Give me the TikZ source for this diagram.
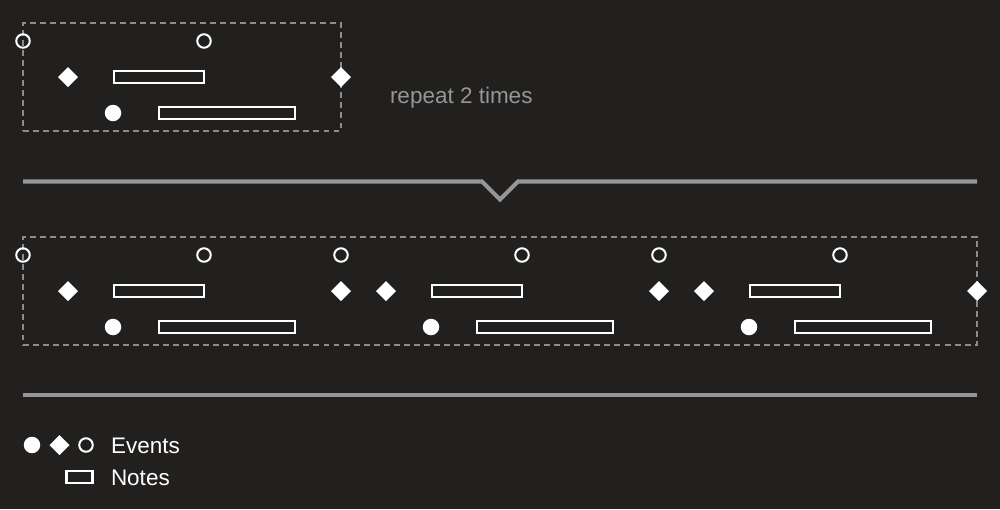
\documentclass[tikz,border=0pt]{standalone}
\usepackage{fontspec}
\setmainfont{Liberation Sans}
\usetikzlibrary{shapes,calc,positioning}
\definecolor{bgdark}{RGB}{33,32,31}
\definecolor{linegray}{RGB}{150,150,150}
\definecolor{dashgray}{RGB}{140,140,140}

\begin{document}
\begin{tikzpicture}[
  every node/.style={inner sep=0pt, outer sep=0pt},
  evopen/.style={circle, draw=white, line width=1.15pt, minimum size=0.27cm},
  evdot/.style={circle, fill=white, minimum size=0.33cm},
  evdia/.style={diamond, fill=white, minimum size=0.4cm},
  notebox/.style={draw=white, line width=1.15pt, minimum height=0.24cm},
  loopbox/.style={draw=dashgray, line width=0.85pt, dash pattern=on 3.4pt off 2.3pt},
  lbl/.style={text=white, font=\fontsize{12.8}{15}\selectfont, anchor=base west},
  divider/.style={draw=linegray, line width=2.3pt}
]

\fill[bgdark] (0,0) rectangle (20,-10.18);
\useasboundingbox (0,0) rectangle (20,-10.18);

% pattern
\coordinate(O1) at (0.46,-0.46);
\node[below right=0cm of O1, loopbox, minimum width=6.36cm, minimum height=2.16cm](loop1) {};
\node[evopen] (open1a) at ($(O1)+(0,-0.36)$) {};
\node[evopen] (open1b) at ($(O1)+(3.62,-0.36)$) {};
\node[evdia] (dia1a) at ($(O1)+(0.9,-1.08)$) {};
\node[evdia] (dia1b) at ($(O1)+(6.36,-1.08)$) {};
\node[notebox, minimum width=1.8cm] (note1a) at ($(O1)+(2.72,-1.08)$) {};
\node[evdot] (dot1) at ($(O1)+(1.8,-1.8)$) {};
\node[notebox, minimum width=2.72cm] (note1b) at ($(O1)+(4.08,-1.8)$) {};

\node[lbl, text=linegray] (repeat) at (7.8,-2.07) {repeat 2 times};

\coordinate (divL) at (0.46,-3.63);
\coordinate (divR) at (19.54,-3.63);
\draw[divider] (divL) -- (9.64,-3.63) -- (10,-3.99) -- (10.36,-3.63) -- (divR);

% unrolled
\coordinate(O1) at (0.46,-4.74);
\node[below right=0cm of O1, loopbox, minimum width=19.08cm, minimum height=2.16cm](loop2) {};
\node[evopen] (open2a) at ($(O1)+(0,-0.36)$) {};
\node[evopen] (open2b) at ($(O1)+(3.62,-0.36)$) {};
\node[evdia] (dia2a) at ($(O1)+(0.9,-1.08)$) {};
\node[evdia] (dia2b) at ($(O1)+(6.36,-1.08)$) {};
\node[notebox, minimum width=1.8cm] (note2a) at ($(O1)+(2.72,-1.08)$) {};
\node[evdot] (dot2) at ($(O1)+(1.8,-1.8)$) {};
\node[notebox, minimum width=2.72cm] (note2b) at ($(O1)+(4.08,-1.8)$) {};

\coordinate(O1) at (6.82,-4.74);
\node[evopen] (open3a) at ($(O1)+(0,-0.36)$) {};
\node[evopen] (open3b) at ($(O1)+(3.62,-0.36)$) {};
\node[evdia] (dia3a) at ($(O1)+(0.9,-1.08)$) {};
\node[evdia] (dia3b) at ($(O1)+(6.36,-1.08)$) {};
\node[notebox, minimum width=1.8cm] (note3a) at ($(O1)+(2.72,-1.08)$) {};
\node[evdot] (dot3) at ($(O1)+(1.8,-1.8)$) {};
\node[notebox, minimum width=2.72cm] (note3b) at ($(O1)+(4.08,-1.8)$) {};

\coordinate(O1) at (13.18,-4.74);
\node[evopen] (open4a) at ($(O1)+(0,-0.36)$) {};
\node[evopen] (open4b) at ($(O1)+(3.62,-0.36)$) {};
\node[evdia] (dia4a) at ($(O1)+(0.9,-1.08)$) {};
\node[evdia] (dia4b) at ($(O1)+(6.36,-1.08)$) {};
\node[notebox, minimum width=1.8cm] (note4a) at ($(O1)+(2.72,-1.08)$) {};
\node[evdot] (dot4) at ($(O1)+(1.8,-1.8)$) {};
\node[notebox, minimum width=2.72cm] (note4b) at ($(O1)+(4.08,-1.8)$) {};

\coordinate (baseL) at (0.46,-7.9);
\coordinate (baseR) at (19.54,-7.9);
\draw[divider] (baseL) -- (baseR);

% legend
\node[evdot] (keydot) at (0.64,-8.9) {};
\node[evdia] (keydia) at (1.19,-8.9) {};
\node[evopen] (keyopen) at (1.72,-8.9) {};
\node[lbl] (events) at (2.22,-9.07) {Events};
\node[notebox, minimum width=0.52cm] (keynote) at (1.59,-9.54) {};
\node[lbl] (notes) at (2.22,-9.71) {Notes};
\end{tikzpicture}
\end{document}
